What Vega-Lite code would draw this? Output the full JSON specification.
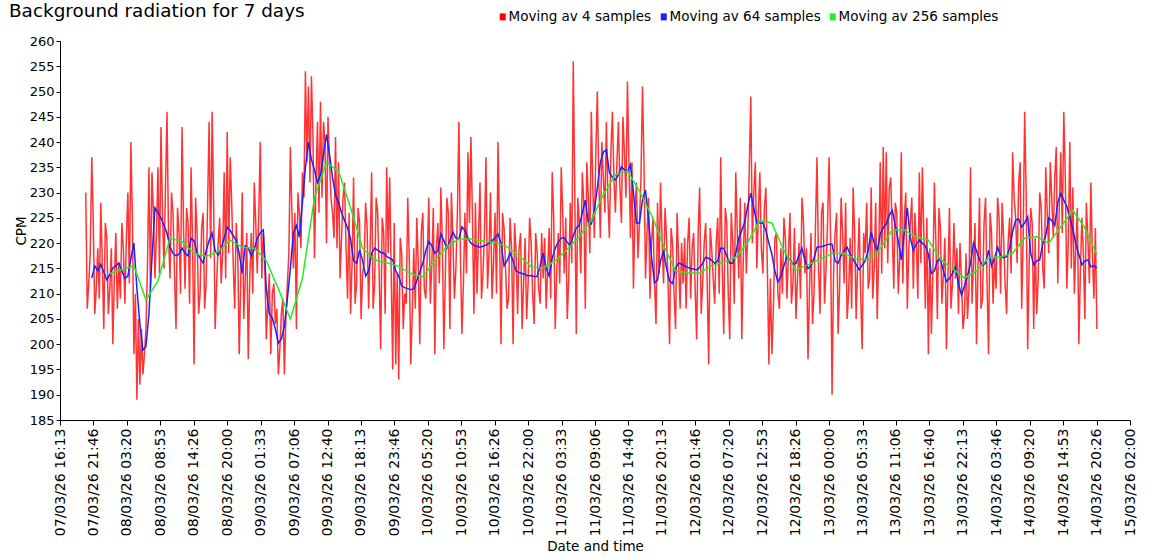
{
  "$schema": "https://vega.github.io/schema/vega-lite/v6.json",
  "width": 1070,
  "height": 379,
  "autosize": {"type": "none"},
  "padding": {"left": 60, "top": 41, "right": 20, "bottom": 140},
  "background": "white",
  "title": {
    "text": "Background radiation for 7 days",
    "anchor": "start",
    "frame": "group",
    "font": "DejaVu Sans",
    "fontSize": 18.4,
    "fontWeight": "normal",
    "color": "black",
    "dx": -51,
    "dy": 22,
    "offset": 12
  },
  "config": {
    "view": {"stroke": null},
    "axis": {
      "grid": false,
      "domainColor": "black",
      "tickColor": "black",
      "labelColor": "black",
      "titleColor": "black",
      "labelFont": "DejaVu Sans",
      "titleFont": "DejaVu Sans",
      "labelFontSize": 13,
      "titleFontSize": 13.5,
      "titleFontWeight": "normal"
    }
  },
  "datasets": {
    "ma4": [
      {"t": "2026-03-07T20:30", "v": 230}, {"t": "2026-03-07T20:45", "v": 207}, {"t": "2026-03-07T21:00", "v": 212}, {"t": "2026-03-07T21:15", "v": 218},
      {"t": "2026-03-07T21:30", "v": 237}, {"t": "2026-03-07T21:45", "v": 224}, {"t": "2026-03-07T22:00", "v": 206}, {"t": "2026-03-07T22:15", "v": 211},
      {"t": "2026-03-07T22:30", "v": 219}, {"t": "2026-03-07T22:45", "v": 209}, {"t": "2026-03-07T23:00", "v": 228}, {"t": "2026-03-07T23:15", "v": 216},
      {"t": "2026-03-07T23:30", "v": 203}, {"t": "2026-03-07T23:45", "v": 224},
      {"t": "2026-03-08T00:00", "v": 221}, {"t": "2026-03-08T00:15", "v": 206}, {"t": "2026-03-08T00:30", "v": 211}, {"t": "2026-03-08T00:45", "v": 219},
      {"t": "2026-03-08T01:00", "v": 200}, {"t": "2026-03-08T01:15", "v": 213}, {"t": "2026-03-08T01:30", "v": 222}, {"t": "2026-03-08T01:45", "v": 207},
      {"t": "2026-03-08T02:00", "v": 216}, {"t": "2026-03-08T02:15", "v": 209}, {"t": "2026-03-08T02:30", "v": 224}, {"t": "2026-03-08T02:45", "v": 219},
      {"t": "2026-03-08T03:00", "v": 208}, {"t": "2026-03-08T03:15", "v": 221}, {"t": "2026-03-08T03:30", "v": 230}, {"t": "2026-03-08T03:45", "v": 212},
      {"t": "2026-03-08T04:00", "v": 240}, {"t": "2026-03-08T04:15", "v": 225}, {"t": "2026-03-08T04:30", "v": 198}, {"t": "2026-03-08T04:45", "v": 210},
      {"t": "2026-03-08T05:00", "v": 189}, {"t": "2026-03-08T05:15", "v": 205}, {"t": "2026-03-08T05:30", "v": 192}, {"t": "2026-03-08T05:45", "v": 203},
      {"t": "2026-03-08T06:00", "v": 194}, {"t": "2026-03-08T06:15", "v": 198}, {"t": "2026-03-08T06:30", "v": 203}, {"t": "2026-03-08T06:45", "v": 215},
      {"t": "2026-03-08T07:00", "v": 235}, {"t": "2026-03-08T07:15", "v": 211}, {"t": "2026-03-08T07:30", "v": 234}, {"t": "2026-03-08T07:45", "v": 226},
      {"t": "2026-03-08T08:00", "v": 213}, {"t": "2026-03-08T08:15", "v": 222}, {"t": "2026-03-08T08:30", "v": 235}, {"t": "2026-03-08T08:45", "v": 214},
      {"t": "2026-03-08T09:00", "v": 243}, {"t": "2026-03-08T09:15", "v": 226}, {"t": "2026-03-08T09:30", "v": 215}, {"t": "2026-03-08T09:45", "v": 231},
      {"t": "2026-03-08T10:00", "v": 246}, {"t": "2026-03-08T10:15", "v": 222}, {"t": "2026-03-08T10:30", "v": 213}, {"t": "2026-03-08T10:45", "v": 230},
      {"t": "2026-03-08T11:00", "v": 226}, {"t": "2026-03-08T11:15", "v": 214}, {"t": "2026-03-08T11:30", "v": 203}, {"t": "2026-03-08T11:45", "v": 227},
      {"t": "2026-03-08T12:00", "v": 222}, {"t": "2026-03-08T12:15", "v": 210}, {"t": "2026-03-08T12:30", "v": 243}, {"t": "2026-03-08T12:45", "v": 223},
      {"t": "2026-03-08T13:00", "v": 211}, {"t": "2026-03-08T13:15", "v": 227}, {"t": "2026-03-08T13:30", "v": 224}, {"t": "2026-03-08T13:45", "v": 208},
      {"t": "2026-03-08T14:00", "v": 235}, {"t": "2026-03-08T14:15", "v": 220}, {"t": "2026-03-08T14:30", "v": 196}, {"t": "2026-03-08T14:45", "v": 229},
      {"t": "2026-03-08T15:00", "v": 222}, {"t": "2026-03-08T15:15", "v": 206}, {"t": "2026-03-08T15:30", "v": 210}, {"t": "2026-03-08T15:45", "v": 223},
      {"t": "2026-03-08T16:00", "v": 226}, {"t": "2026-03-08T16:15", "v": 207}, {"t": "2026-03-08T16:30", "v": 212}, {"t": "2026-03-08T16:45", "v": 228},
      {"t": "2026-03-08T17:00", "v": 244}, {"t": "2026-03-08T17:15", "v": 217}, {"t": "2026-03-08T17:30", "v": 246}, {"t": "2026-03-08T17:45", "v": 228},
      {"t": "2026-03-08T18:00", "v": 203}, {"t": "2026-03-08T18:15", "v": 212}, {"t": "2026-03-08T18:30", "v": 220}, {"t": "2026-03-08T18:45", "v": 225},
      {"t": "2026-03-08T19:00", "v": 212}, {"t": "2026-03-08T19:15", "v": 218}, {"t": "2026-03-08T19:30", "v": 234}, {"t": "2026-03-08T19:45", "v": 213},
      {"t": "2026-03-08T20:00", "v": 242}, {"t": "2026-03-08T20:15", "v": 218}, {"t": "2026-03-08T20:30", "v": 237}, {"t": "2026-03-08T20:45", "v": 228},
      {"t": "2026-03-08T21:00", "v": 216}, {"t": "2026-03-08T21:15", "v": 207}, {"t": "2026-03-08T21:30", "v": 224}, {"t": "2026-03-08T21:45", "v": 218},
      {"t": "2026-03-08T22:00", "v": 198}, {"t": "2026-03-08T22:15", "v": 212}, {"t": "2026-03-08T22:30", "v": 230}, {"t": "2026-03-08T22:45", "v": 205},
      {"t": "2026-03-08T23:00", "v": 213}, {"t": "2026-03-08T23:15", "v": 222}, {"t": "2026-03-08T23:30", "v": 197}, {"t": "2026-03-08T23:45", "v": 213},
      {"t": "2026-03-09T00:00", "v": 222}, {"t": "2026-03-09T00:15", "v": 210}, {"t": "2026-03-09T00:30", "v": 232}, {"t": "2026-03-09T00:45", "v": 224},
      {"t": "2026-03-09T01:00", "v": 214}, {"t": "2026-03-09T01:15", "v": 226}, {"t": "2026-03-09T01:30", "v": 240}, {"t": "2026-03-09T01:45", "v": 213},
      {"t": "2026-03-09T02:00", "v": 222}, {"t": "2026-03-09T02:15", "v": 216}, {"t": "2026-03-09T02:30", "v": 201}, {"t": "2026-03-09T02:45", "v": 208},
      {"t": "2026-03-09T03:00", "v": 214}, {"t": "2026-03-09T03:15", "v": 198}, {"t": "2026-03-09T03:30", "v": 210}, {"t": "2026-03-09T03:45", "v": 212},
      {"t": "2026-03-09T04:00", "v": 204}, {"t": "2026-03-09T04:15", "v": 207}, {"t": "2026-03-09T04:30", "v": 194}, {"t": "2026-03-09T04:45", "v": 199},
      {"t": "2026-03-09T05:00", "v": 206}, {"t": "2026-03-09T05:15", "v": 209}, {"t": "2026-03-09T05:30", "v": 194}, {"t": "2026-03-09T05:45", "v": 205},
      {"t": "2026-03-09T06:00", "v": 212}, {"t": "2026-03-09T06:15", "v": 218}, {"t": "2026-03-09T06:30", "v": 239}, {"t": "2026-03-09T06:45", "v": 226},
      {"t": "2026-03-09T07:00", "v": 215}, {"t": "2026-03-09T07:15", "v": 226}, {"t": "2026-03-09T07:30", "v": 203}, {"t": "2026-03-09T07:45", "v": 230},
      {"t": "2026-03-09T08:00", "v": 226}, {"t": "2026-03-09T08:15", "v": 219}, {"t": "2026-03-09T08:30", "v": 234}, {"t": "2026-03-09T08:45", "v": 229},
      {"t": "2026-03-09T09:00", "v": 254}, {"t": "2026-03-09T09:15", "v": 236}, {"t": "2026-03-09T09:30", "v": 251}, {"t": "2026-03-09T09:45", "v": 232},
      {"t": "2026-03-09T10:00", "v": 253}, {"t": "2026-03-09T10:15", "v": 241}, {"t": "2026-03-09T10:30", "v": 217}, {"t": "2026-03-09T10:45", "v": 232},
      {"t": "2026-03-09T11:00", "v": 244}, {"t": "2026-03-09T11:15", "v": 226}, {"t": "2026-03-09T11:30", "v": 248}, {"t": "2026-03-09T11:45", "v": 229},
      {"t": "2026-03-09T12:00", "v": 244}, {"t": "2026-03-09T12:15", "v": 240}, {"t": "2026-03-09T12:30", "v": 220}, {"t": "2026-03-09T12:45", "v": 245},
      {"t": "2026-03-09T13:00", "v": 236}, {"t": "2026-03-09T13:15", "v": 229}, {"t": "2026-03-09T13:30", "v": 226}, {"t": "2026-03-09T13:45", "v": 221},
      {"t": "2026-03-09T14:00", "v": 241}, {"t": "2026-03-09T14:15", "v": 219}, {"t": "2026-03-09T14:30", "v": 236}, {"t": "2026-03-09T14:45", "v": 213},
      {"t": "2026-03-09T15:00", "v": 221}, {"t": "2026-03-09T15:15", "v": 229}, {"t": "2026-03-09T15:30", "v": 232}, {"t": "2026-03-09T15:45", "v": 219},
      {"t": "2026-03-09T16:00", "v": 209}, {"t": "2026-03-09T16:15", "v": 226}, {"t": "2026-03-09T16:30", "v": 206}, {"t": "2026-03-09T16:45", "v": 216},
      {"t": "2026-03-09T17:00", "v": 233}, {"t": "2026-03-09T17:15", "v": 208}, {"t": "2026-03-09T17:30", "v": 212}, {"t": "2026-03-09T17:45", "v": 227},
      {"t": "2026-03-09T18:00", "v": 224}, {"t": "2026-03-09T18:15", "v": 205}, {"t": "2026-03-09T18:30", "v": 214}, {"t": "2026-03-09T18:45", "v": 216},
      {"t": "2026-03-09T19:00", "v": 228}, {"t": "2026-03-09T19:15", "v": 223}, {"t": "2026-03-09T19:30", "v": 207}, {"t": "2026-03-09T19:45", "v": 219},
      {"t": "2026-03-09T20:00", "v": 234}, {"t": "2026-03-09T20:15", "v": 207}, {"t": "2026-03-09T20:30", "v": 212}, {"t": "2026-03-09T20:45", "v": 229},
      {"t": "2026-03-09T21:00", "v": 226}, {"t": "2026-03-09T21:15", "v": 214}, {"t": "2026-03-09T21:30", "v": 199}, {"t": "2026-03-09T21:45", "v": 225},
      {"t": "2026-03-09T22:00", "v": 222}, {"t": "2026-03-09T22:15", "v": 206}, {"t": "2026-03-09T22:30", "v": 235}, {"t": "2026-03-09T22:45", "v": 218},
      {"t": "2026-03-09T23:00", "v": 233}, {"t": "2026-03-09T23:15", "v": 214}, {"t": "2026-03-09T23:30", "v": 195}, {"t": "2026-03-09T23:45", "v": 224},
      {"t": "2026-03-10T00:00", "v": 196}, {"t": "2026-03-10T00:15", "v": 214}, {"t": "2026-03-10T00:30", "v": 193}, {"t": "2026-03-10T00:45", "v": 221},
      {"t": "2026-03-10T01:00", "v": 218}, {"t": "2026-03-10T01:15", "v": 203}, {"t": "2026-03-10T01:30", "v": 210}, {"t": "2026-03-10T01:45", "v": 208},
      {"t": "2026-03-10T02:00", "v": 229}, {"t": "2026-03-10T02:15", "v": 217}, {"t": "2026-03-10T02:30", "v": 196}, {"t": "2026-03-10T02:45", "v": 206},
      {"t": "2026-03-10T03:00", "v": 219}, {"t": "2026-03-10T03:15", "v": 207}, {"t": "2026-03-10T03:30", "v": 225}, {"t": "2026-03-10T03:45", "v": 216},
      {"t": "2026-03-10T04:00", "v": 200}, {"t": "2026-03-10T04:15", "v": 222}, {"t": "2026-03-10T04:30", "v": 226}, {"t": "2026-03-10T04:45", "v": 211},
      {"t": "2026-03-10T05:00", "v": 209}, {"t": "2026-03-10T05:15", "v": 218}, {"t": "2026-03-10T05:30", "v": 229}, {"t": "2026-03-10T05:45", "v": 208},
      {"t": "2026-03-10T06:00", "v": 216}, {"t": "2026-03-10T06:15", "v": 227}, {"t": "2026-03-10T06:30", "v": 198}, {"t": "2026-03-10T06:45", "v": 219},
      {"t": "2026-03-10T07:00", "v": 224}, {"t": "2026-03-10T07:15", "v": 212}, {"t": "2026-03-10T07:30", "v": 231}, {"t": "2026-03-10T07:45", "v": 220},
      {"t": "2026-03-10T08:00", "v": 199}, {"t": "2026-03-10T08:15", "v": 214}, {"t": "2026-03-10T08:30", "v": 229}, {"t": "2026-03-10T08:45", "v": 226},
      {"t": "2026-03-10T09:00", "v": 203}, {"t": "2026-03-10T09:15", "v": 230}, {"t": "2026-03-10T09:30", "v": 221}, {"t": "2026-03-10T09:45", "v": 209},
      {"t": "2026-03-10T10:00", "v": 215}, {"t": "2026-03-10T10:15", "v": 226}, {"t": "2026-03-10T10:30", "v": 244}, {"t": "2026-03-10T10:45", "v": 218},
      {"t": "2026-03-10T11:00", "v": 202}, {"t": "2026-03-10T11:15", "v": 212}, {"t": "2026-03-10T11:30", "v": 226}, {"t": "2026-03-10T11:45", "v": 214},
      {"t": "2026-03-10T12:00", "v": 238}, {"t": "2026-03-10T12:15", "v": 224}, {"t": "2026-03-10T12:30", "v": 241}, {"t": "2026-03-10T12:45", "v": 225},
      {"t": "2026-03-10T13:00", "v": 206}, {"t": "2026-03-10T13:15", "v": 228}, {"t": "2026-03-10T13:30", "v": 210}, {"t": "2026-03-10T13:45", "v": 221},
      {"t": "2026-03-10T14:00", "v": 232}, {"t": "2026-03-10T14:15", "v": 209}, {"t": "2026-03-10T14:30", "v": 214}, {"t": "2026-03-10T14:45", "v": 222},
      {"t": "2026-03-10T15:00", "v": 237}, {"t": "2026-03-10T15:15", "v": 211}, {"t": "2026-03-10T15:30", "v": 218}, {"t": "2026-03-10T15:45", "v": 230},
      {"t": "2026-03-10T16:00", "v": 209}, {"t": "2026-03-10T16:15", "v": 216}, {"t": "2026-03-10T16:30", "v": 226}, {"t": "2026-03-10T16:45", "v": 210},
      {"t": "2026-03-10T17:00", "v": 240}, {"t": "2026-03-10T17:15", "v": 222}, {"t": "2026-03-10T17:30", "v": 200}, {"t": "2026-03-10T17:45", "v": 226},
      {"t": "2026-03-10T18:00", "v": 223}, {"t": "2026-03-10T18:15", "v": 215}, {"t": "2026-03-10T18:30", "v": 207}, {"t": "2026-03-10T18:45", "v": 209},
      {"t": "2026-03-10T19:00", "v": 225}, {"t": "2026-03-10T19:15", "v": 219}, {"t": "2026-03-10T19:30", "v": 200}, {"t": "2026-03-10T19:45", "v": 224},
      {"t": "2026-03-10T20:00", "v": 218}, {"t": "2026-03-10T20:15", "v": 206}, {"t": "2026-03-10T20:30", "v": 219}, {"t": "2026-03-10T20:45", "v": 222},
      {"t": "2026-03-10T21:00", "v": 203}, {"t": "2026-03-10T21:15", "v": 212}, {"t": "2026-03-10T21:30", "v": 221}, {"t": "2026-03-10T21:45", "v": 205},
      {"t": "2026-03-10T22:00", "v": 212}, {"t": "2026-03-10T22:15", "v": 225}, {"t": "2026-03-10T22:30", "v": 220}, {"t": "2026-03-10T22:45", "v": 210},
      {"t": "2026-03-10T23:00", "v": 204}, {"t": "2026-03-10T23:15", "v": 222}, {"t": "2026-03-10T23:30", "v": 218}, {"t": "2026-03-10T23:45", "v": 211},
      {"t": "2026-03-11T00:00", "v": 208}, {"t": "2026-03-11T00:15", "v": 222}, {"t": "2026-03-11T00:30", "v": 213}, {"t": "2026-03-11T00:45", "v": 221},
      {"t": "2026-03-11T01:00", "v": 207}, {"t": "2026-03-11T01:15", "v": 215}, {"t": "2026-03-11T01:30", "v": 223}, {"t": "2026-03-11T01:45", "v": 209},
      {"t": "2026-03-11T02:00", "v": 234}, {"t": "2026-03-11T02:15", "v": 225}, {"t": "2026-03-11T02:30", "v": 203}, {"t": "2026-03-11T02:45", "v": 214},
      {"t": "2026-03-11T03:00", "v": 222}, {"t": "2026-03-11T03:15", "v": 212}, {"t": "2026-03-11T03:30", "v": 235}, {"t": "2026-03-11T03:45", "v": 226},
      {"t": "2026-03-11T04:00", "v": 214}, {"t": "2026-03-11T04:15", "v": 225}, {"t": "2026-03-11T04:30", "v": 205}, {"t": "2026-03-11T04:45", "v": 213},
      {"t": "2026-03-11T05:00", "v": 228}, {"t": "2026-03-11T05:15", "v": 216}, {"t": "2026-03-11T05:30", "v": 256}, {"t": "2026-03-11T05:45", "v": 230},
      {"t": "2026-03-11T06:00", "v": 202}, {"t": "2026-03-11T06:15", "v": 229}, {"t": "2026-03-11T06:30", "v": 224}, {"t": "2026-03-11T06:45", "v": 214},
      {"t": "2026-03-11T07:00", "v": 234}, {"t": "2026-03-11T07:15", "v": 228}, {"t": "2026-03-11T07:30", "v": 207}, {"t": "2026-03-11T07:45", "v": 236},
      {"t": "2026-03-11T08:00", "v": 229}, {"t": "2026-03-11T08:15", "v": 218}, {"t": "2026-03-11T08:30", "v": 246}, {"t": "2026-03-11T08:45", "v": 231},
      {"t": "2026-03-11T09:00", "v": 221}, {"t": "2026-03-11T09:15", "v": 238}, {"t": "2026-03-11T09:30", "v": 250}, {"t": "2026-03-11T09:45", "v": 232},
      {"t": "2026-03-11T10:00", "v": 221}, {"t": "2026-03-11T10:15", "v": 240}, {"t": "2026-03-11T10:30", "v": 233}, {"t": "2026-03-11T10:45", "v": 226},
      {"t": "2026-03-11T11:00", "v": 244}, {"t": "2026-03-11T11:15", "v": 229}, {"t": "2026-03-11T11:30", "v": 221}, {"t": "2026-03-11T11:45", "v": 238},
      {"t": "2026-03-11T12:00", "v": 246}, {"t": "2026-03-11T12:15", "v": 233}, {"t": "2026-03-11T12:30", "v": 226}, {"t": "2026-03-11T12:45", "v": 236},
      {"t": "2026-03-11T13:00", "v": 244}, {"t": "2026-03-11T13:15", "v": 231}, {"t": "2026-03-11T13:30", "v": 224}, {"t": "2026-03-11T13:45", "v": 245},
      {"t": "2026-03-11T14:00", "v": 238}, {"t": "2026-03-11T14:15", "v": 229}, {"t": "2026-03-11T14:30", "v": 252}, {"t": "2026-03-11T14:45", "v": 236},
      {"t": "2026-03-11T15:00", "v": 221}, {"t": "2026-03-11T15:15", "v": 236}, {"t": "2026-03-11T15:30", "v": 211}, {"t": "2026-03-11T15:45", "v": 226},
      {"t": "2026-03-11T16:00", "v": 232}, {"t": "2026-03-11T16:15", "v": 217}, {"t": "2026-03-11T16:30", "v": 224}, {"t": "2026-03-11T16:45", "v": 233},
      {"t": "2026-03-11T17:00", "v": 251}, {"t": "2026-03-11T17:15", "v": 236}, {"t": "2026-03-11T17:30", "v": 213}, {"t": "2026-03-11T17:45", "v": 222},
      {"t": "2026-03-11T18:00", "v": 229}, {"t": "2026-03-11T18:15", "v": 209}, {"t": "2026-03-11T18:30", "v": 220}, {"t": "2026-03-11T18:45", "v": 225},
      {"t": "2026-03-11T19:00", "v": 212}, {"t": "2026-03-11T19:15", "v": 204}, {"t": "2026-03-11T19:30", "v": 228}, {"t": "2026-03-11T19:45", "v": 214},
      {"t": "2026-03-11T20:00", "v": 232}, {"t": "2026-03-11T20:15", "v": 221}, {"t": "2026-03-11T20:30", "v": 212}, {"t": "2026-03-11T20:45", "v": 227},
      {"t": "2026-03-11T21:00", "v": 221}, {"t": "2026-03-11T21:15", "v": 212}, {"t": "2026-03-11T21:30", "v": 200}, {"t": "2026-03-11T21:45", "v": 223},
      {"t": "2026-03-11T22:00", "v": 220}, {"t": "2026-03-11T22:15", "v": 210}, {"t": "2026-03-11T22:30", "v": 203}, {"t": "2026-03-11T22:45", "v": 226},
      {"t": "2026-03-11T23:00", "v": 217}, {"t": "2026-03-11T23:15", "v": 207}, {"t": "2026-03-11T23:30", "v": 220}, {"t": "2026-03-11T23:45", "v": 212},
      {"t": "2026-03-12T00:00", "v": 221}, {"t": "2026-03-12T00:15", "v": 207}, {"t": "2026-03-12T00:30", "v": 220}, {"t": "2026-03-12T00:45", "v": 225},
      {"t": "2026-03-12T01:00", "v": 209}, {"t": "2026-03-12T01:15", "v": 219}, {"t": "2026-03-12T01:30", "v": 222}, {"t": "2026-03-12T01:45", "v": 211},
      {"t": "2026-03-12T02:00", "v": 201}, {"t": "2026-03-12T02:15", "v": 222}, {"t": "2026-03-12T02:30", "v": 231}, {"t": "2026-03-12T02:45", "v": 206},
      {"t": "2026-03-12T03:00", "v": 212}, {"t": "2026-03-12T03:15", "v": 220}, {"t": "2026-03-12T03:30", "v": 224}, {"t": "2026-03-12T03:45", "v": 212},
      {"t": "2026-03-12T04:00", "v": 196}, {"t": "2026-03-12T04:15", "v": 223}, {"t": "2026-03-12T04:30", "v": 219}, {"t": "2026-03-12T04:45", "v": 213},
      {"t": "2026-03-12T05:00", "v": 208}, {"t": "2026-03-12T05:15", "v": 220}, {"t": "2026-03-12T05:30", "v": 225}, {"t": "2026-03-12T05:45", "v": 210},
      {"t": "2026-03-12T06:00", "v": 237}, {"t": "2026-03-12T06:15", "v": 215}, {"t": "2026-03-12T06:30", "v": 202}, {"t": "2026-03-12T06:45", "v": 227},
      {"t": "2026-03-12T07:00", "v": 224}, {"t": "2026-03-12T07:15", "v": 210}, {"t": "2026-03-12T07:30", "v": 201}, {"t": "2026-03-12T07:45", "v": 226},
      {"t": "2026-03-12T08:00", "v": 220}, {"t": "2026-03-12T08:15", "v": 208}, {"t": "2026-03-12T08:30", "v": 234}, {"t": "2026-03-12T08:45", "v": 222},
      {"t": "2026-03-12T09:00", "v": 213}, {"t": "2026-03-12T09:15", "v": 229}, {"t": "2026-03-12T09:30", "v": 201}, {"t": "2026-03-12T09:45", "v": 217},
      {"t": "2026-03-12T10:00", "v": 228}, {"t": "2026-03-12T10:15", "v": 214}, {"t": "2026-03-12T10:30", "v": 222}, {"t": "2026-03-12T10:45", "v": 235},
      {"t": "2026-03-12T11:00", "v": 249}, {"t": "2026-03-12T11:15", "v": 220}, {"t": "2026-03-12T11:30", "v": 230}, {"t": "2026-03-12T11:45", "v": 236},
      {"t": "2026-03-12T12:00", "v": 215}, {"t": "2026-03-12T12:15", "v": 226}, {"t": "2026-03-12T12:30", "v": 234}, {"t": "2026-03-12T12:45", "v": 219},
      {"t": "2026-03-12T13:00", "v": 214}, {"t": "2026-03-12T13:15", "v": 227}, {"t": "2026-03-12T13:30", "v": 231}, {"t": "2026-03-12T13:45", "v": 215},
      {"t": "2026-03-12T14:00", "v": 196}, {"t": "2026-03-12T14:15", "v": 213}, {"t": "2026-03-12T14:30", "v": 198}, {"t": "2026-03-12T14:45", "v": 207},
      {"t": "2026-03-12T15:00", "v": 221}, {"t": "2026-03-12T15:15", "v": 222}, {"t": "2026-03-12T15:30", "v": 210}, {"t": "2026-03-12T15:45", "v": 207},
      {"t": "2026-03-12T16:00", "v": 219}, {"t": "2026-03-12T16:15", "v": 210}, {"t": "2026-03-12T16:30", "v": 225}, {"t": "2026-03-12T16:45", "v": 221},
      {"t": "2026-03-12T17:00", "v": 209}, {"t": "2026-03-12T17:15", "v": 218}, {"t": "2026-03-12T17:30", "v": 226}, {"t": "2026-03-12T17:45", "v": 208},
      {"t": "2026-03-12T18:00", "v": 212}, {"t": "2026-03-12T18:15", "v": 223}, {"t": "2026-03-12T18:30", "v": 205}, {"t": "2026-03-12T18:45", "v": 213},
      {"t": "2026-03-12T19:00", "v": 220}, {"t": "2026-03-12T19:15", "v": 209}, {"t": "2026-03-12T19:30", "v": 229}, {"t": "2026-03-12T19:45", "v": 224},
      {"t": "2026-03-12T20:00", "v": 214}, {"t": "2026-03-12T20:15", "v": 219}, {"t": "2026-03-12T20:30", "v": 197}, {"t": "2026-03-12T20:45", "v": 211},
      {"t": "2026-03-12T21:00", "v": 222}, {"t": "2026-03-12T21:15", "v": 204}, {"t": "2026-03-12T21:30", "v": 210}, {"t": "2026-03-12T21:45", "v": 224},
      {"t": "2026-03-12T22:00", "v": 237}, {"t": "2026-03-12T22:15", "v": 215}, {"t": "2026-03-12T22:30", "v": 206}, {"t": "2026-03-12T22:45", "v": 226},
      {"t": "2026-03-12T23:00", "v": 228}, {"t": "2026-03-12T23:15", "v": 208}, {"t": "2026-03-12T23:30", "v": 215}, {"t": "2026-03-12T23:45", "v": 224},
      {"t": "2026-03-13T00:00", "v": 237}, {"t": "2026-03-13T00:15", "v": 221}, {"t": "2026-03-13T00:30", "v": 190}, {"t": "2026-03-13T00:45", "v": 214},
      {"t": "2026-03-13T01:00", "v": 222}, {"t": "2026-03-13T01:15", "v": 226}, {"t": "2026-03-13T01:30", "v": 202}, {"t": "2026-03-13T01:45", "v": 211},
      {"t": "2026-03-13T02:00", "v": 229}, {"t": "2026-03-13T02:15", "v": 222}, {"t": "2026-03-13T02:30", "v": 212}, {"t": "2026-03-13T02:45", "v": 228},
      {"t": "2026-03-13T03:00", "v": 205}, {"t": "2026-03-13T03:15", "v": 210}, {"t": "2026-03-13T03:30", "v": 221}, {"t": "2026-03-13T03:45", "v": 207},
      {"t": "2026-03-13T04:00", "v": 231}, {"t": "2026-03-13T04:15", "v": 222}, {"t": "2026-03-13T04:30", "v": 205}, {"t": "2026-03-13T04:45", "v": 216},
      {"t": "2026-03-13T05:00", "v": 225}, {"t": "2026-03-13T05:15", "v": 210}, {"t": "2026-03-13T05:30", "v": 199}, {"t": "2026-03-13T05:45", "v": 222},
      {"t": "2026-03-13T06:00", "v": 218}, {"t": "2026-03-13T06:15", "v": 228}, {"t": "2026-03-13T06:30", "v": 211}, {"t": "2026-03-13T06:45", "v": 213},
      {"t": "2026-03-13T07:00", "v": 231}, {"t": "2026-03-13T07:15", "v": 209}, {"t": "2026-03-13T07:30", "v": 215}, {"t": "2026-03-13T07:45", "v": 228},
      {"t": "2026-03-13T08:00", "v": 205}, {"t": "2026-03-13T08:15", "v": 218}, {"t": "2026-03-13T08:30", "v": 236}, {"t": "2026-03-13T08:45", "v": 214},
      {"t": "2026-03-13T09:00", "v": 239}, {"t": "2026-03-13T09:15", "v": 219}, {"t": "2026-03-13T09:30", "v": 238}, {"t": "2026-03-13T09:45", "v": 216},
      {"t": "2026-03-13T10:00", "v": 231}, {"t": "2026-03-13T10:15", "v": 233}, {"t": "2026-03-13T10:30", "v": 222}, {"t": "2026-03-13T10:45", "v": 211},
      {"t": "2026-03-13T11:00", "v": 228}, {"t": "2026-03-13T11:15", "v": 226}, {"t": "2026-03-13T11:30", "v": 210}, {"t": "2026-03-13T11:45", "v": 217},
      {"t": "2026-03-13T12:00", "v": 238}, {"t": "2026-03-13T12:15", "v": 212}, {"t": "2026-03-13T12:30", "v": 225}, {"t": "2026-03-13T12:45", "v": 230},
      {"t": "2026-03-13T13:00", "v": 207}, {"t": "2026-03-13T13:15", "v": 219}, {"t": "2026-03-13T13:30", "v": 224}, {"t": "2026-03-13T13:45", "v": 229},
      {"t": "2026-03-13T14:00", "v": 211}, {"t": "2026-03-13T14:15", "v": 226}, {"t": "2026-03-13T14:30", "v": 220}, {"t": "2026-03-13T14:45", "v": 209},
      {"t": "2026-03-13T15:00", "v": 234}, {"t": "2026-03-13T15:15", "v": 216}, {"t": "2026-03-13T15:30", "v": 235}, {"t": "2026-03-13T15:45", "v": 222},
      {"t": "2026-03-13T16:00", "v": 207}, {"t": "2026-03-13T16:15", "v": 225}, {"t": "2026-03-13T16:30", "v": 198}, {"t": "2026-03-13T16:45", "v": 219},
      {"t": "2026-03-13T17:00", "v": 202}, {"t": "2026-03-13T17:15", "v": 214}, {"t": "2026-03-13T17:30", "v": 232}, {"t": "2026-03-13T17:45", "v": 220},
      {"t": "2026-03-13T18:00", "v": 205}, {"t": "2026-03-13T18:15", "v": 227}, {"t": "2026-03-13T18:30", "v": 223}, {"t": "2026-03-13T18:45", "v": 208},
      {"t": "2026-03-13T19:00", "v": 214}, {"t": "2026-03-13T19:15", "v": 221}, {"t": "2026-03-13T19:30", "v": 199}, {"t": "2026-03-13T19:45", "v": 213},
      {"t": "2026-03-13T20:00", "v": 227}, {"t": "2026-03-13T20:15", "v": 207}, {"t": "2026-03-13T20:30", "v": 212}, {"t": "2026-03-13T20:45", "v": 224},
      {"t": "2026-03-13T21:00", "v": 213}, {"t": "2026-03-13T21:15", "v": 219}, {"t": "2026-03-13T21:30", "v": 206}, {"t": "2026-03-13T21:45", "v": 220},
      {"t": "2026-03-13T22:00", "v": 213}, {"t": "2026-03-13T22:15", "v": 203}, {"t": "2026-03-13T22:30", "v": 206}, {"t": "2026-03-13T22:45", "v": 218},
      {"t": "2026-03-13T23:00", "v": 205}, {"t": "2026-03-13T23:15", "v": 211}, {"t": "2026-03-13T23:30", "v": 235}, {"t": "2026-03-13T23:45", "v": 208},
      {"t": "2026-03-14T00:00", "v": 216}, {"t": "2026-03-14T00:15", "v": 224}, {"t": "2026-03-14T00:30", "v": 200}, {"t": "2026-03-14T00:45", "v": 215},
      {"t": "2026-03-14T01:00", "v": 229}, {"t": "2026-03-14T01:15", "v": 207}, {"t": "2026-03-14T01:30", "v": 209}, {"t": "2026-03-14T01:45", "v": 224},
      {"t": "2026-03-14T02:00", "v": 229}, {"t": "2026-03-14T02:15", "v": 212}, {"t": "2026-03-14T02:30", "v": 198}, {"t": "2026-03-14T02:45", "v": 226},
      {"t": "2026-03-14T03:00", "v": 222}, {"t": "2026-03-14T03:15", "v": 208}, {"t": "2026-03-14T03:30", "v": 217}, {"t": "2026-03-14T03:45", "v": 211},
      {"t": "2026-03-14T04:00", "v": 229}, {"t": "2026-03-14T04:15", "v": 225}, {"t": "2026-03-14T04:30", "v": 210}, {"t": "2026-03-14T04:45", "v": 228},
      {"t": "2026-03-14T05:00", "v": 221}, {"t": "2026-03-14T05:15", "v": 212}, {"t": "2026-03-14T05:30", "v": 206}, {"t": "2026-03-14T05:45", "v": 220},
      {"t": "2026-03-14T06:00", "v": 225}, {"t": "2026-03-14T06:15", "v": 214}, {"t": "2026-03-14T06:30", "v": 238}, {"t": "2026-03-14T06:45", "v": 229},
      {"t": "2026-03-14T07:00", "v": 225}, {"t": "2026-03-14T07:15", "v": 216}, {"t": "2026-03-14T07:30", "v": 232}, {"t": "2026-03-14T07:45", "v": 236},
      {"t": "2026-03-14T08:00", "v": 207}, {"t": "2026-03-14T08:15", "v": 221}, {"t": "2026-03-14T08:30", "v": 246}, {"t": "2026-03-14T08:45", "v": 230},
      {"t": "2026-03-14T09:00", "v": 199}, {"t": "2026-03-14T09:15", "v": 216}, {"t": "2026-03-14T09:30", "v": 227}, {"t": "2026-03-14T09:45", "v": 224},
      {"t": "2026-03-14T10:00", "v": 203}, {"t": "2026-03-14T10:15", "v": 221}, {"t": "2026-03-14T10:30", "v": 206}, {"t": "2026-03-14T10:45", "v": 213},
      {"t": "2026-03-14T11:00", "v": 230}, {"t": "2026-03-14T11:15", "v": 227}, {"t": "2026-03-14T11:30", "v": 215}, {"t": "2026-03-14T11:45", "v": 211},
      {"t": "2026-03-14T12:00", "v": 235}, {"t": "2026-03-14T12:15", "v": 226}, {"t": "2026-03-14T12:30", "v": 218}, {"t": "2026-03-14T12:45", "v": 236},
      {"t": "2026-03-14T13:00", "v": 229}, {"t": "2026-03-14T13:15", "v": 221}, {"t": "2026-03-14T13:30", "v": 233}, {"t": "2026-03-14T13:45", "v": 239},
      {"t": "2026-03-14T14:00", "v": 212}, {"t": "2026-03-14T14:15", "v": 227}, {"t": "2026-03-14T14:30", "v": 238}, {"t": "2026-03-14T14:45", "v": 222},
      {"t": "2026-03-14T15:00", "v": 246}, {"t": "2026-03-14T15:15", "v": 233}, {"t": "2026-03-14T15:30", "v": 211}, {"t": "2026-03-14T15:45", "v": 220},
      {"t": "2026-03-14T16:00", "v": 240}, {"t": "2026-03-14T16:15", "v": 215}, {"t": "2026-03-14T16:30", "v": 231}, {"t": "2026-03-14T16:45", "v": 210},
      {"t": "2026-03-14T17:00", "v": 219}, {"t": "2026-03-14T17:15", "v": 227}, {"t": "2026-03-14T17:30", "v": 200}, {"t": "2026-03-14T17:45", "v": 214},
      {"t": "2026-03-14T18:00", "v": 225}, {"t": "2026-03-14T18:15", "v": 218}, {"t": "2026-03-14T18:30", "v": 205}, {"t": "2026-03-14T18:45", "v": 228},
      {"t": "2026-03-14T19:00", "v": 221}, {"t": "2026-03-14T19:15", "v": 212}, {"t": "2026-03-14T19:30", "v": 232}, {"t": "2026-03-14T19:45", "v": 218},
      {"t": "2026-03-14T20:00", "v": 209}, {"t": "2026-03-14T20:15", "v": 223}, {"t": "2026-03-14T20:30", "v": 203}
    ],
    "ma64": [
      {"t": "2026-03-07T21:30", "v": 213.1}, {"t": "2026-03-07T22:00", "v": 215.5}, {"t": "2026-03-07T22:30", "v": 214.5}, {"t": "2026-03-07T23:00", "v": 215.8},
      {"t": "2026-03-07T23:30", "v": 214.3},
      {"t": "2026-03-08T00:00", "v": 212.7}, {"t": "2026-03-08T00:30", "v": 213.8}, {"t": "2026-03-08T01:00", "v": 215.1}, {"t": "2026-03-08T01:30", "v": 215.5},
      {"t": "2026-03-08T02:00", "v": 216.1}, {"t": "2026-03-08T02:30", "v": 214.5}, {"t": "2026-03-08T03:00", "v": 213.0}, {"t": "2026-03-08T03:30", "v": 213.5},
      {"t": "2026-03-08T04:00", "v": 217.0}, {"t": "2026-03-08T04:30", "v": 220.0}, {"t": "2026-03-08T05:00", "v": 211.0}, {"t": "2026-03-08T05:30", "v": 204.0},
      {"t": "2026-03-08T06:00", "v": 198.8}, {"t": "2026-03-08T06:30", "v": 199.5}, {"t": "2026-03-08T07:00", "v": 206.0}, {"t": "2026-03-08T07:30", "v": 217.0},
      {"t": "2026-03-08T08:00", "v": 227.0}, {"t": "2026-03-08T08:30", "v": 226.0}, {"t": "2026-03-08T09:00", "v": 225.0}, {"t": "2026-03-08T09:30", "v": 223.5},
      {"t": "2026-03-08T10:00", "v": 222.0}, {"t": "2026-03-08T10:30", "v": 219.2}, {"t": "2026-03-08T11:00", "v": 218.0}, {"t": "2026-03-08T11:30", "v": 217.5},
      {"t": "2026-03-08T12:00", "v": 217.8}, {"t": "2026-03-08T12:30", "v": 219.0}, {"t": "2026-03-08T13:00", "v": 218.0}, {"t": "2026-03-08T13:30", "v": 217.5},
      {"t": "2026-03-08T14:00", "v": 221.0}, {"t": "2026-03-08T14:30", "v": 220.5}, {"t": "2026-03-08T15:00", "v": 218.0}, {"t": "2026-03-08T15:30", "v": 217.0},
      {"t": "2026-03-08T16:00", "v": 216.1}, {"t": "2026-03-08T16:30", "v": 218.5}, {"t": "2026-03-08T17:00", "v": 220.5}, {"t": "2026-03-08T17:30", "v": 222.0},
      {"t": "2026-03-08T18:00", "v": 218.5}, {"t": "2026-03-08T18:30", "v": 217.6}, {"t": "2026-03-08T19:00", "v": 219.0}, {"t": "2026-03-08T19:30", "v": 221.0},
      {"t": "2026-03-08T20:00", "v": 223.2}, {"t": "2026-03-08T20:30", "v": 222.5}, {"t": "2026-03-08T21:00", "v": 221.5}, {"t": "2026-03-08T21:30", "v": 220.5},
      {"t": "2026-03-08T22:00", "v": 218.0}, {"t": "2026-03-08T22:30", "v": 214.0}, {"t": "2026-03-08T23:00", "v": 219.5}, {"t": "2026-03-08T23:30", "v": 219.0},
      {"t": "2026-03-09T00:00", "v": 217.5}, {"t": "2026-03-09T00:30", "v": 218.8}, {"t": "2026-03-09T01:00", "v": 221.0}, {"t": "2026-03-09T01:30", "v": 222.0},
      {"t": "2026-03-09T02:00", "v": 222.6}, {"t": "2026-03-09T02:30", "v": 211.0}, {"t": "2026-03-09T03:00", "v": 206.0}, {"t": "2026-03-09T03:30", "v": 205.2},
      {"t": "2026-03-09T04:00", "v": 203.0}, {"t": "2026-03-09T04:30", "v": 200.2}, {"t": "2026-03-09T05:00", "v": 201.0}, {"t": "2026-03-09T05:30", "v": 203.5},
      {"t": "2026-03-09T06:00", "v": 209.0}, {"t": "2026-03-09T06:30", "v": 215.0}, {"t": "2026-03-09T07:00", "v": 222.0}, {"t": "2026-03-09T07:30", "v": 223.5},
      {"t": "2026-03-09T08:00", "v": 221.2}, {"t": "2026-03-09T08:30", "v": 228.0}, {"t": "2026-03-09T09:00", "v": 235.0}, {"t": "2026-03-09T09:30", "v": 240.0},
      {"t": "2026-03-09T10:00", "v": 236.5}, {"t": "2026-03-09T10:30", "v": 234.5}, {"t": "2026-03-09T11:00", "v": 232.0}, {"t": "2026-03-09T11:30", "v": 233.5},
      {"t": "2026-03-09T12:00", "v": 237.5}, {"t": "2026-03-09T12:30", "v": 241.5}, {"t": "2026-03-09T13:00", "v": 237.5}, {"t": "2026-03-09T13:30", "v": 233.0},
      {"t": "2026-03-09T14:00", "v": 229.5}, {"t": "2026-03-09T14:30", "v": 228.0}, {"t": "2026-03-09T15:00", "v": 226.0}, {"t": "2026-03-09T15:30", "v": 224.5},
      {"t": "2026-03-09T16:00", "v": 223.0}, {"t": "2026-03-09T16:30", "v": 220.8}, {"t": "2026-03-09T17:00", "v": 216.5}, {"t": "2026-03-09T17:30", "v": 216.0},
      {"t": "2026-03-09T18:00", "v": 218.6}, {"t": "2026-03-09T18:30", "v": 216.5}, {"t": "2026-03-09T19:00", "v": 213.5}, {"t": "2026-03-09T19:30", "v": 214.5},
      {"t": "2026-03-09T20:00", "v": 218.0}, {"t": "2026-03-09T20:30", "v": 219.0}, {"t": "2026-03-09T21:00", "v": 218.6}, {"t": "2026-03-09T21:30", "v": 218.2},
      {"t": "2026-03-09T22:00", "v": 218.0}, {"t": "2026-03-09T22:30", "v": 217.4}, {"t": "2026-03-09T23:00", "v": 217.0}, {"t": "2026-03-09T23:30", "v": 216.7},
      {"t": "2026-03-10T00:00", "v": 214.5}, {"t": "2026-03-10T00:30", "v": 213.5}, {"t": "2026-03-10T01:00", "v": 211.5}, {"t": "2026-03-10T01:30", "v": 211.2},
      {"t": "2026-03-10T02:00", "v": 211.0}, {"t": "2026-03-10T02:30", "v": 210.8}, {"t": "2026-03-10T03:00", "v": 211.0}, {"t": "2026-03-10T03:30", "v": 212.5},
      {"t": "2026-03-10T04:00", "v": 214.3}, {"t": "2026-03-10T04:30", "v": 216.0}, {"t": "2026-03-10T05:00", "v": 218.5}, {"t": "2026-03-10T05:30", "v": 220.3},
      {"t": "2026-03-10T06:00", "v": 219.5}, {"t": "2026-03-10T06:30", "v": 218.0}, {"t": "2026-03-10T07:00", "v": 218.5}, {"t": "2026-03-10T07:30", "v": 221.8},
      {"t": "2026-03-10T08:00", "v": 220.5}, {"t": "2026-03-10T08:30", "v": 219.0}, {"t": "2026-03-10T09:00", "v": 220.5}, {"t": "2026-03-10T09:30", "v": 222.2},
      {"t": "2026-03-10T10:00", "v": 221.0}, {"t": "2026-03-10T10:30", "v": 220.8}, {"t": "2026-03-10T11:00", "v": 223.2}, {"t": "2026-03-10T11:30", "v": 222.5},
      {"t": "2026-03-10T12:00", "v": 221.0}, {"t": "2026-03-10T12:30", "v": 220.0}, {"t": "2026-03-10T13:00", "v": 219.5}, {"t": "2026-03-10T13:30", "v": 219.4},
      {"t": "2026-03-10T14:00", "v": 219.2}, {"t": "2026-03-10T14:30", "v": 219.4}, {"t": "2026-03-10T15:00", "v": 219.6}, {"t": "2026-03-10T15:30", "v": 220.0},
      {"t": "2026-03-10T16:00", "v": 220.5}, {"t": "2026-03-10T16:30", "v": 221.0}, {"t": "2026-03-10T17:00", "v": 221.8}, {"t": "2026-03-10T17:30", "v": 220.0},
      {"t": "2026-03-10T18:00", "v": 215.5}, {"t": "2026-03-10T18:30", "v": 216.5}, {"t": "2026-03-10T19:00", "v": 218.0}, {"t": "2026-03-10T19:30", "v": 216.5},
      {"t": "2026-03-10T20:00", "v": 214.5}, {"t": "2026-03-10T20:30", "v": 214.2}, {"t": "2026-03-10T21:00", "v": 214.0}, {"t": "2026-03-10T21:30", "v": 213.8},
      {"t": "2026-03-10T22:00", "v": 213.5}, {"t": "2026-03-10T22:30", "v": 213.6}, {"t": "2026-03-10T23:00", "v": 213.4}, {"t": "2026-03-10T23:30", "v": 213.4},
      {"t": "2026-03-11T00:00", "v": 215.5}, {"t": "2026-03-11T00:30", "v": 218.0}, {"t": "2026-03-11T01:00", "v": 215.0}, {"t": "2026-03-11T01:30", "v": 213.5},
      {"t": "2026-03-11T02:00", "v": 217.0}, {"t": "2026-03-11T02:30", "v": 219.0}, {"t": "2026-03-11T03:00", "v": 220.2}, {"t": "2026-03-11T03:30", "v": 221.0},
      {"t": "2026-03-11T04:00", "v": 221.0}, {"t": "2026-03-11T04:30", "v": 220.2}, {"t": "2026-03-11T05:00", "v": 219.5}, {"t": "2026-03-11T05:30", "v": 221.5},
      {"t": "2026-03-11T06:00", "v": 223.0}, {"t": "2026-03-11T06:30", "v": 223.5}, {"t": "2026-03-11T07:00", "v": 226.0}, {"t": "2026-03-11T07:30", "v": 228.5},
      {"t": "2026-03-11T08:00", "v": 224.0}, {"t": "2026-03-11T08:30", "v": 223.8}, {"t": "2026-03-11T09:00", "v": 226.5}, {"t": "2026-03-11T09:30", "v": 231.0},
      {"t": "2026-03-11T10:00", "v": 236.0}, {"t": "2026-03-11T10:30", "v": 238.0}, {"t": "2026-03-11T11:00", "v": 238.5}, {"t": "2026-03-11T11:30", "v": 234.0},
      {"t": "2026-03-11T12:00", "v": 233.0}, {"t": "2026-03-11T12:30", "v": 232.5}, {"t": "2026-03-11T13:00", "v": 233.5}, {"t": "2026-03-11T13:30", "v": 235.1},
      {"t": "2026-03-11T14:00", "v": 234.5}, {"t": "2026-03-11T14:30", "v": 234.2}, {"t": "2026-03-11T15:00", "v": 235.5}, {"t": "2026-03-11T15:30", "v": 230.0},
      {"t": "2026-03-11T16:00", "v": 224.0}, {"t": "2026-03-11T16:30", "v": 224.0}, {"t": "2026-03-11T17:00", "v": 228.5}, {"t": "2026-03-11T17:30", "v": 230.5},
      {"t": "2026-03-11T18:00", "v": 225.0}, {"t": "2026-03-11T18:30", "v": 217.3}, {"t": "2026-03-11T19:00", "v": 212.1}, {"t": "2026-03-11T19:30", "v": 212.7},
      {"t": "2026-03-11T20:00", "v": 216.5}, {"t": "2026-03-11T20:30", "v": 218.5}, {"t": "2026-03-11T21:00", "v": 215.0}, {"t": "2026-03-11T21:30", "v": 212.5},
      {"t": "2026-03-11T22:00", "v": 212.0}, {"t": "2026-03-11T22:30", "v": 215.0}, {"t": "2026-03-11T23:00", "v": 216.1}, {"t": "2026-03-11T23:30", "v": 215.8},
      {"t": "2026-03-12T00:00", "v": 215.5}, {"t": "2026-03-12T00:30", "v": 215.2}, {"t": "2026-03-12T01:00", "v": 215.0}, {"t": "2026-03-12T01:30", "v": 214.9},
      {"t": "2026-03-12T02:00", "v": 214.7}, {"t": "2026-03-12T02:30", "v": 215.2}, {"t": "2026-03-12T03:00", "v": 216.0}, {"t": "2026-03-12T03:30", "v": 217.2},
      {"t": "2026-03-12T04:00", "v": 217.0}, {"t": "2026-03-12T04:30", "v": 216.6}, {"t": "2026-03-12T05:00", "v": 216.0}, {"t": "2026-03-12T05:30", "v": 216.5},
      {"t": "2026-03-12T06:00", "v": 219.0}, {"t": "2026-03-12T06:30", "v": 219.0}, {"t": "2026-03-12T07:00", "v": 217.5}, {"t": "2026-03-12T07:30", "v": 216.0},
      {"t": "2026-03-12T08:00", "v": 216.0}, {"t": "2026-03-12T08:30", "v": 218.0}, {"t": "2026-03-12T09:00", "v": 221.0}, {"t": "2026-03-12T09:30", "v": 222.5},
      {"t": "2026-03-12T10:00", "v": 224.2}, {"t": "2026-03-12T10:30", "v": 227.5}, {"t": "2026-03-12T11:00", "v": 229.9}, {"t": "2026-03-12T11:30", "v": 227.0},
      {"t": "2026-03-12T12:00", "v": 224.0}, {"t": "2026-03-12T12:30", "v": 224.0}, {"t": "2026-03-12T13:00", "v": 224.0}, {"t": "2026-03-12T13:30", "v": 222.5},
      {"t": "2026-03-12T14:00", "v": 220.0}, {"t": "2026-03-12T14:30", "v": 217.8}, {"t": "2026-03-12T15:00", "v": 214.5}, {"t": "2026-03-12T15:30", "v": 212.3},
      {"t": "2026-03-12T16:00", "v": 213.5}, {"t": "2026-03-12T16:30", "v": 215.5}, {"t": "2026-03-12T17:00", "v": 217.3}, {"t": "2026-03-12T17:30", "v": 216.8},
      {"t": "2026-03-12T18:00", "v": 215.8}, {"t": "2026-03-12T18:30", "v": 216.0}, {"t": "2026-03-12T19:00", "v": 217.5}, {"t": "2026-03-12T19:30", "v": 219.0},
      {"t": "2026-03-12T20:00", "v": 216.5}, {"t": "2026-03-12T20:30", "v": 215.0}, {"t": "2026-03-12T21:00", "v": 215.5}, {"t": "2026-03-12T21:30", "v": 217.0},
      {"t": "2026-03-12T22:00", "v": 219.2}, {"t": "2026-03-12T22:30", "v": 219.3}, {"t": "2026-03-12T23:00", "v": 219.4}, {"t": "2026-03-12T23:30", "v": 219.6},
      {"t": "2026-03-13T00:00", "v": 219.8}, {"t": "2026-03-13T00:30", "v": 219.8}, {"t": "2026-03-13T01:00", "v": 216.5}, {"t": "2026-03-13T01:30", "v": 216.0},
      {"t": "2026-03-13T02:00", "v": 217.5}, {"t": "2026-03-13T02:30", "v": 218.5}, {"t": "2026-03-13T03:00", "v": 219.2}, {"t": "2026-03-13T03:30", "v": 217.8},
      {"t": "2026-03-13T04:00", "v": 216.8}, {"t": "2026-03-13T04:30", "v": 215.8}, {"t": "2026-03-13T05:00", "v": 214.7}, {"t": "2026-03-13T05:30", "v": 215.6},
      {"t": "2026-03-13T06:00", "v": 216.5}, {"t": "2026-03-13T06:30", "v": 218.5}, {"t": "2026-03-13T07:00", "v": 222.2}, {"t": "2026-03-13T07:30", "v": 220.0},
      {"t": "2026-03-13T08:00", "v": 218.5}, {"t": "2026-03-13T08:30", "v": 221.8}, {"t": "2026-03-13T09:00", "v": 223.0}, {"t": "2026-03-13T09:30", "v": 223.8},
      {"t": "2026-03-13T10:00", "v": 225.5}, {"t": "2026-03-13T10:30", "v": 226.5}, {"t": "2026-03-13T11:00", "v": 223.5}, {"t": "2026-03-13T11:30", "v": 220.5},
      {"t": "2026-03-13T12:00", "v": 216.7}, {"t": "2026-03-13T12:30", "v": 222.0}, {"t": "2026-03-13T13:00", "v": 227.0}, {"t": "2026-03-13T13:30", "v": 221.0},
      {"t": "2026-03-13T14:00", "v": 218.6}, {"t": "2026-03-13T14:30", "v": 219.8}, {"t": "2026-03-13T15:00", "v": 220.6}, {"t": "2026-03-13T15:30", "v": 220.0},
      {"t": "2026-03-13T16:00", "v": 219.4}, {"t": "2026-03-13T16:30", "v": 217.8}, {"t": "2026-03-13T17:00", "v": 214.0}, {"t": "2026-03-13T17:30", "v": 214.5},
      {"t": "2026-03-13T18:00", "v": 216.5}, {"t": "2026-03-13T18:30", "v": 216.8}, {"t": "2026-03-13T19:00", "v": 214.5}, {"t": "2026-03-13T19:30", "v": 212.4},
      {"t": "2026-03-13T20:00", "v": 213.0}, {"t": "2026-03-13T20:30", "v": 214.0}, {"t": "2026-03-13T21:00", "v": 215.3}, {"t": "2026-03-13T21:30", "v": 212.0},
      {"t": "2026-03-13T22:00", "v": 209.7}, {"t": "2026-03-13T22:30", "v": 211.5}, {"t": "2026-03-13T23:00", "v": 213.5}, {"t": "2026-03-13T23:30", "v": 216.0},
      {"t": "2026-03-14T00:00", "v": 220.0}, {"t": "2026-03-14T00:30", "v": 218.5}, {"t": "2026-03-14T01:00", "v": 216.7}, {"t": "2026-03-14T01:30", "v": 215.6},
      {"t": "2026-03-14T02:00", "v": 216.0}, {"t": "2026-03-14T02:30", "v": 218.6}, {"t": "2026-03-14T03:00", "v": 215.5}, {"t": "2026-03-14T03:30", "v": 217.0},
      {"t": "2026-03-14T04:00", "v": 219.2}, {"t": "2026-03-14T04:30", "v": 217.5}, {"t": "2026-03-14T05:00", "v": 217.1}, {"t": "2026-03-14T05:30", "v": 217.3},
      {"t": "2026-03-14T06:00", "v": 219.0}, {"t": "2026-03-14T06:30", "v": 222.3}, {"t": "2026-03-14T07:00", "v": 224.5}, {"t": "2026-03-14T07:30", "v": 224.8},
      {"t": "2026-03-14T08:00", "v": 223.2}, {"t": "2026-03-14T08:30", "v": 224.0}, {"t": "2026-03-14T09:00", "v": 225.2}, {"t": "2026-03-14T09:30", "v": 218.0},
      {"t": "2026-03-14T10:00", "v": 215.7}, {"t": "2026-03-14T10:30", "v": 216.5}, {"t": "2026-03-14T11:00", "v": 216.7}, {"t": "2026-03-14T11:30", "v": 219.8},
      {"t": "2026-03-14T12:00", "v": 221.5}, {"t": "2026-03-14T12:30", "v": 225.0}, {"t": "2026-03-14T13:00", "v": 224.5}, {"t": "2026-03-14T13:30", "v": 223.5},
      {"t": "2026-03-14T14:00", "v": 228.0}, {"t": "2026-03-14T14:30", "v": 229.8}, {"t": "2026-03-14T15:00", "v": 228.5}, {"t": "2026-03-14T15:30", "v": 227.3},
      {"t": "2026-03-14T16:00", "v": 225.0}, {"t": "2026-03-14T16:30", "v": 222.8}, {"t": "2026-03-14T17:00", "v": 219.8}, {"t": "2026-03-14T17:30", "v": 217.8},
      {"t": "2026-03-14T18:00", "v": 215.7}, {"t": "2026-03-14T18:30", "v": 216.5}, {"t": "2026-03-14T19:00", "v": 216.7}, {"t": "2026-03-14T19:30", "v": 215.3},
      {"t": "2026-03-14T20:00", "v": 215.5}, {"t": "2026-03-14T20:30", "v": 215.1}
    ],
    "ma256": [
      {"t": "2026-03-08T00:30", "v": 214.0}, {"t": "2026-03-08T02:30", "v": 214.8}, {"t": "2026-03-08T04:30", "v": 215.5}, {"t": "2026-03-08T06:30", "v": 208.8},
      {"t": "2026-03-08T08:30", "v": 212.5}, {"t": "2026-03-08T10:30", "v": 221.0}, {"t": "2026-03-08T12:30", "v": 220.3}, {"t": "2026-03-08T14:30", "v": 218.0},
      {"t": "2026-03-08T16:30", "v": 217.4}, {"t": "2026-03-08T18:30", "v": 218.3}, {"t": "2026-03-08T20:30", "v": 220.6}, {"t": "2026-03-08T22:30", "v": 219.2},
      {"t": "2026-03-09T00:30", "v": 219.0}, {"t": "2026-03-09T02:30", "v": 216.5}, {"t": "2026-03-09T04:30", "v": 211.0}, {"t": "2026-03-09T06:30", "v": 205.0},
      {"t": "2026-03-09T08:30", "v": 213.0}, {"t": "2026-03-09T10:30", "v": 229.0}, {"t": "2026-03-09T12:30", "v": 236.0}, {"t": "2026-03-09T14:30", "v": 234.2},
      {"t": "2026-03-09T16:30", "v": 227.0}, {"t": "2026-03-09T18:30", "v": 219.0}, {"t": "2026-03-09T20:30", "v": 216.7}, {"t": "2026-03-09T22:30", "v": 216.1},
      {"t": "2026-03-10T00:30", "v": 215.4}, {"t": "2026-03-10T02:30", "v": 214.0}, {"t": "2026-03-10T04:30", "v": 213.3}, {"t": "2026-03-10T06:30", "v": 216.5},
      {"t": "2026-03-10T08:30", "v": 219.3}, {"t": "2026-03-10T10:30", "v": 220.8}, {"t": "2026-03-10T12:30", "v": 220.8}, {"t": "2026-03-10T14:30", "v": 220.4},
      {"t": "2026-03-10T16:30", "v": 220.1}, {"t": "2026-03-10T18:30", "v": 219.3}, {"t": "2026-03-10T20:30", "v": 217.5}, {"t": "2026-03-10T22:30", "v": 215.3},
      {"t": "2026-03-11T00:30", "v": 215.1}, {"t": "2026-03-11T02:30", "v": 216.5}, {"t": "2026-03-11T04:30", "v": 218.8}, {"t": "2026-03-11T06:30", "v": 221.3},
      {"t": "2026-03-11T08:30", "v": 224.5}, {"t": "2026-03-11T10:30", "v": 229.6}, {"t": "2026-03-11T12:30", "v": 233.5}, {"t": "2026-03-11T14:30", "v": 234.3},
      {"t": "2026-03-11T16:30", "v": 230.3}, {"t": "2026-03-11T18:30", "v": 225.5}, {"t": "2026-03-11T20:30", "v": 219.6}, {"t": "2026-03-11T22:30", "v": 214.5},
      {"t": "2026-03-12T00:30", "v": 214.1}, {"t": "2026-03-12T02:30", "v": 214.1}, {"t": "2026-03-12T04:30", "v": 215.5}, {"t": "2026-03-12T06:30", "v": 216.3},
      {"t": "2026-03-12T08:30", "v": 217.2}, {"t": "2026-03-12T10:30", "v": 220.2}, {"t": "2026-03-12T12:30", "v": 224.5}, {"t": "2026-03-12T14:30", "v": 224.0},
      {"t": "2026-03-12T16:30", "v": 218.5}, {"t": "2026-03-12T18:30", "v": 214.7}, {"t": "2026-03-12T20:30", "v": 215.7}, {"t": "2026-03-12T22:30", "v": 216.8},
      {"t": "2026-03-13T00:30", "v": 217.9}, {"t": "2026-03-13T02:30", "v": 218.0}, {"t": "2026-03-13T04:30", "v": 216.8}, {"t": "2026-03-13T06:30", "v": 216.8},
      {"t": "2026-03-13T08:30", "v": 218.9}, {"t": "2026-03-13T10:30", "v": 222.6}, {"t": "2026-03-13T12:30", "v": 222.6}, {"t": "2026-03-13T14:30", "v": 221.2},
      {"t": "2026-03-13T16:30", "v": 220.6}, {"t": "2026-03-13T18:30", "v": 216.8}, {"t": "2026-03-13T20:30", "v": 215.0}, {"t": "2026-03-13T22:30", "v": 213.1},
      {"t": "2026-03-14T00:30", "v": 214.5}, {"t": "2026-03-14T02:30", "v": 217.1}, {"t": "2026-03-14T04:30", "v": 217.3}, {"t": "2026-03-14T06:30", "v": 218.0},
      {"t": "2026-03-14T08:30", "v": 221.0}, {"t": "2026-03-14T10:30", "v": 221.3}, {"t": "2026-03-14T12:30", "v": 220.0}, {"t": "2026-03-14T14:30", "v": 223.2},
      {"t": "2026-03-14T16:30", "v": 226.5}, {"t": "2026-03-14T18:30", "v": 223.0}, {"t": "2026-03-14T20:30", "v": 217.7}
    ]
  },
  "encoding": {
    "x": {
      "field": "t",
      "type": "temporal",
      "scale": {
        "domain": [
          {"year": 2026, "month": 3, "date": 7, "hours": 16, "minutes": 13, "seconds": 20},
          {"year": 2026, "month": 3, "date": 15, "hours": 2, "minutes": 0, "seconds": 0}
        ],
        "nice": false
      },
      "axis": {
        "title": "Date and time",
        "format": "%d/%m/%y %H:%M",
        "labelAngle": 270,
        "labelFontSize": 14,
        "labelOverlap": false,
        "labelFlush": false,
        "labelBound": false,
        "tickSize": 5,
        "labelPadding": 3,
        "titlePadding": 4,
        "values": [
          {"year": 2026, "month": 3, "date": 7, "hours": 16, "minutes": 13, "seconds": 20},
          {"year": 2026, "month": 3, "date": 7, "hours": 21, "minutes": 46, "seconds": 40},
          {"year": 2026, "month": 3, "date": 8, "hours": 3, "minutes": 20, "seconds": 0},
          {"year": 2026, "month": 3, "date": 8, "hours": 8, "minutes": 53, "seconds": 20},
          {"year": 2026, "month": 3, "date": 8, "hours": 14, "minutes": 26, "seconds": 40},
          {"year": 2026, "month": 3, "date": 8, "hours": 20, "minutes": 0, "seconds": 0},
          {"year": 2026, "month": 3, "date": 9, "hours": 1, "minutes": 33, "seconds": 20},
          {"year": 2026, "month": 3, "date": 9, "hours": 7, "minutes": 6, "seconds": 40},
          {"year": 2026, "month": 3, "date": 9, "hours": 12, "minutes": 40, "seconds": 0},
          {"year": 2026, "month": 3, "date": 9, "hours": 18, "minutes": 13, "seconds": 20},
          {"year": 2026, "month": 3, "date": 9, "hours": 23, "minutes": 46, "seconds": 40},
          {"year": 2026, "month": 3, "date": 10, "hours": 5, "minutes": 20, "seconds": 0},
          {"year": 2026, "month": 3, "date": 10, "hours": 10, "minutes": 53, "seconds": 20},
          {"year": 2026, "month": 3, "date": 10, "hours": 16, "minutes": 26, "seconds": 40},
          {"year": 2026, "month": 3, "date": 10, "hours": 22, "minutes": 0, "seconds": 0},
          {"year": 2026, "month": 3, "date": 11, "hours": 3, "minutes": 33, "seconds": 20},
          {"year": 2026, "month": 3, "date": 11, "hours": 9, "minutes": 6, "seconds": 40},
          {"year": 2026, "month": 3, "date": 11, "hours": 14, "minutes": 40, "seconds": 0},
          {"year": 2026, "month": 3, "date": 11, "hours": 20, "minutes": 13, "seconds": 20},
          {"year": 2026, "month": 3, "date": 12, "hours": 1, "minutes": 46, "seconds": 40},
          {"year": 2026, "month": 3, "date": 12, "hours": 7, "minutes": 20, "seconds": 0},
          {"year": 2026, "month": 3, "date": 12, "hours": 12, "minutes": 53, "seconds": 20},
          {"year": 2026, "month": 3, "date": 12, "hours": 18, "minutes": 26, "seconds": 40},
          {"year": 2026, "month": 3, "date": 13, "hours": 0, "minutes": 0, "seconds": 0},
          {"year": 2026, "month": 3, "date": 13, "hours": 5, "minutes": 33, "seconds": 20},
          {"year": 2026, "month": 3, "date": 13, "hours": 11, "minutes": 6, "seconds": 40},
          {"year": 2026, "month": 3, "date": 13, "hours": 16, "minutes": 40, "seconds": 0},
          {"year": 2026, "month": 3, "date": 13, "hours": 22, "minutes": 13, "seconds": 20},
          {"year": 2026, "month": 3, "date": 14, "hours": 3, "minutes": 46, "seconds": 40},
          {"year": 2026, "month": 3, "date": 14, "hours": 9, "minutes": 20, "seconds": 0},
          {"year": 2026, "month": 3, "date": 14, "hours": 14, "minutes": 53, "seconds": 20},
          {"year": 2026, "month": 3, "date": 14, "hours": 20, "minutes": 26, "seconds": 40},
          {"year": 2026, "month": 3, "date": 15, "hours": 2, "minutes": 0, "seconds": 0}
        ]
      }
    },
    "y": {
      "field": "v",
      "type": "quantitative",
      "scale": {"domain": [185, 260], "nice": false, "zero": false},
      "axis": {
        "title": "CPM",
        "values": [185, 190, 195, 200, 205, 210, 215, 220, 225, 230, 235, 240, 245, 250, 255, 260],
        "tickSize": 4,
        "labelPadding": 2,
        "titlePadding": 1
      }
    }
  },
  "layer": [
    {
      "data": {"name": "ma4"},
      "mark": {"type": "line", "strokeWidth": 1.5, "opacity": 0.8},
      "encoding": {
        "color": {
          "datum": "Moving av 4 samples",
          "type": "nominal",
          "scale": {
            "domain": ["Moving av 4 samples", "Moving av 64 samples", "Moving av 256 samples"],
            "range": ["#ff0000", "#1f1fff", "#22ee22"]
          },
          "legend": {
            "title": null,
            "orient": "none",
            "direction": "horizontal",
            "legendX": 436,
            "legendY": -31,
            "padding": 0,
            "symbolType": "stroke",
            "symbolSize": 36,
            "symbolStrokeWidth": 7,
            "symbolOpacity": 1,
            "labelFont": "DejaVu Sans",
            "labelFontSize": 13.5,
            "labelColor": "black",
            "labelOffset": -1,
            "columnPadding": -6
          }
        }
      }
    },
    {
      "data": {"name": "ma64"},
      "mark": {"type": "line", "strokeWidth": 1.5},
      "encoding": {"color": {"datum": "Moving av 64 samples", "type": "nominal"}}
    },
    {
      "data": {"name": "ma256"},
      "mark": {"type": "line", "strokeWidth": 1.5},
      "encoding": {"color": {"datum": "Moving av 256 samples", "type": "nominal"}}
    }
  ]
}
